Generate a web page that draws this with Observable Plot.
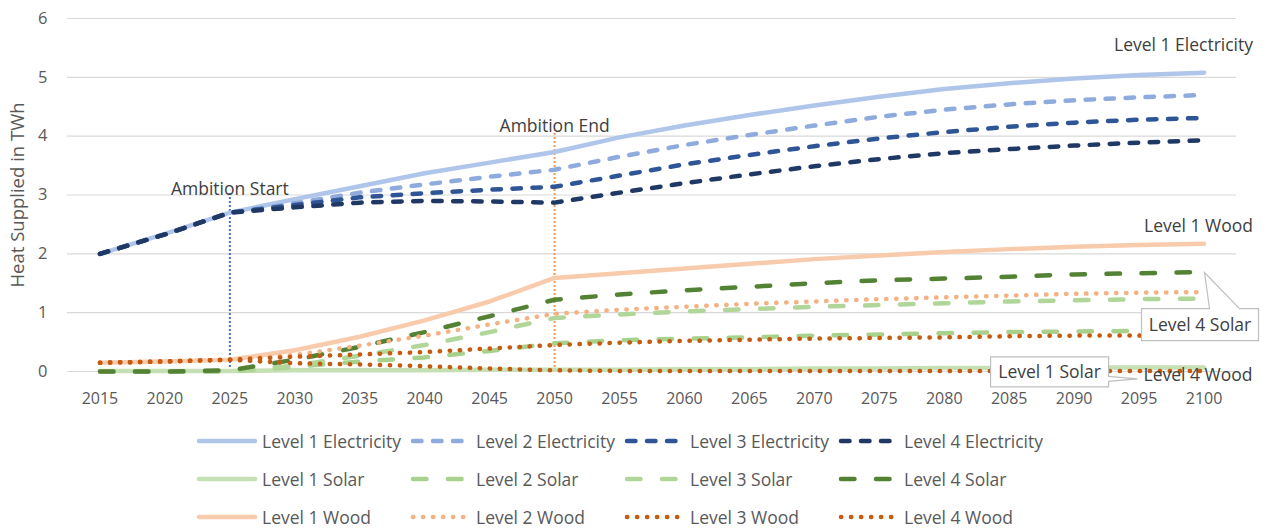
<!DOCTYPE html>
<html>
<head>
<meta charset="utf-8">
<script src="https://cdn.jsdelivr.net/npm/d3@7"></script>
<script src="https://cdn.jsdelivr.net/npm/@observablehq/plot@0.6"></script>
<style>
  html, body { margin: 0; padding: 0; background: #fff; }
  body { font-family: "Open Sans", sans-serif; width: 1269px; height: 528px; position: relative; overflow: hidden; }
  #legend { position: absolute; left: 0; top: 422px; width: 1269px; padding-left: 196px; box-sizing: border-box; }
  .row { display: flex; height: 38px; align-items: center; }
  .item { width: 214px; display: flex; align-items: center; color: #595959; font-size: 17.5px; white-space: nowrap; }
  .item svg { flex: none; margin-right: 4px; }
</style>
</head>
<body>
<div id="chart"></div>
<div id="legend"></div>
<script>
// ---- Data ----
const years = [2015, 2020, 2025, 2030, 2035, 2040, 2045, 2050, 2055, 2060, 2065, 2070, 2075, 2080, 2085, 2090, 2095, 2100];
const yTicks = [0, 1, 2, 3, 4, 5, 6];

const elec1 = [2.00, 2.34, 2.70, 2.93, 3.15, 3.37, 3.55, 3.73, 3.98, 4.18, 4.36, 4.52, 4.67, 4.80, 4.90, 4.98, 5.04, 5.08];
const elec2 = [2.00, 2.33, 2.70, 2.86, 3.04, 3.18, 3.31, 3.43, 3.65, 3.85, 4.02, 4.18, 4.33, 4.45, 4.54, 4.61, 4.66, 4.70];
const elec3 = [2.00, 2.33, 2.70, 2.83, 2.96, 3.03, 3.09, 3.14, 3.33, 3.52, 3.68, 3.83, 3.96, 4.07, 4.16, 4.23, 4.28, 4.31];
const elec4 = [2.00, 2.33, 2.70, 2.79, 2.87, 2.90, 2.89, 2.87, 3.04, 3.20, 3.35, 3.49, 3.61, 3.71, 3.78, 3.84, 3.89, 3.93];

const solar1 = [0.01, 0.01, 0.01, 0.02, 0.02, 0.02, 0.03, 0.03, 0.03, 0.04, 0.04, 0.05, 0.05, 0.06, 0.06, 0.07, 0.07, 0.07];
const solar2 = [0.00, 0.00, 0.00, 0.08, 0.17, 0.24, 0.35, 0.48, 0.53, 0.56, 0.58, 0.61, 0.63, 0.65, 0.67, 0.68, 0.69, 0.70];
const solar3 = [0.00, 0.00, 0.00, 0.10, 0.27, 0.45, 0.67, 0.91, 0.97, 1.02, 1.06, 1.10, 1.13, 1.16, 1.19, 1.21, 1.23, 1.24];
const solar4 = [0.00, 0.00, 0.02, 0.20, 0.42, 0.67, 0.94, 1.22, 1.31, 1.38, 1.44, 1.50, 1.55, 1.58, 1.61, 1.65, 1.67, 1.69];

const wood1 = [0.15, 0.17, 0.20, 0.36, 0.59, 0.87, 1.19, 1.59, 1.67, 1.75, 1.83, 1.91, 1.97, 2.03, 2.08, 2.12, 2.15, 2.17];
const wood2 = [0.15, 0.17, 0.20, 0.28, 0.44, 0.61, 0.80, 0.98, 1.05, 1.10, 1.15, 1.19, 1.23, 1.26, 1.29, 1.32, 1.34, 1.35];
const wood3 = [0.15, 0.17, 0.20, 0.25, 0.29, 0.33, 0.39, 0.45, 0.49, 0.52, 0.54, 0.56, 0.57, 0.58, 0.60, 0.61, 0.61, 0.62];
const wood4 = [0.15, 0.17, 0.20, 0.14, 0.12, 0.09, 0.05, 0.02, 0.01, 0.01, 0.01, 0.01, 0.01, 0.01, 0.01, 0.01, 0.01, 0.01];

const seriesNames = [
  "Level 1 Electricity", "Level 2 Electricity", "Level 3 Electricity", "Level 4 Electricity",
  "Level 1 Solar", "Level 2 Solar", "Level 3 Solar", "Level 4 Solar",
  "Level 1 Wood", "Level 2 Wood", "Level 3 Wood", "Level 4 Wood"
];
const seriesValues = [elec1, elec2, elec3, elec4, solar1, solar2, solar3, solar4, wood1, wood2, wood3, wood4];

const ambitionYears = [2025, 2050];
const ambitionLabels = ["Ambition Start", "Ambition End"];
const ambitionTops = [3.03, 4.10];

// ---- Styles ----
const SOLID = null, DASH = "8.5 11.5", LONG = "13.5 21.5", DOT = "0.3 9.7";
const styles = {
  "Level 1 Electricity": {stroke: "#AFC6EA", dash: SOLID},
  "Level 2 Electricity": {stroke: "#8FAADC", dash: DASH},
  "Level 3 Electricity": {stroke: "#2F5597", dash: DASH},
  "Level 4 Electricity": {stroke: "#203864", dash: DASH},
  "Level 1 Solar": {stroke: "#C5E0B4", dash: SOLID},
  "Level 2 Solar": {stroke: "#A9D18E", dash: LONG},
  "Level 3 Solar": {stroke: "#B0D699", dash: LONG},
  "Level 4 Solar": {stroke: "#548235", dash: LONG},
  "Level 1 Wood": {stroke: "#F8CBAD", dash: SOLID},
  "Level 2 Wood": {stroke: "#F4B183", dash: DOT},
  "Level 3 Wood": {stroke: "#C55A11", dash: DOT},
  "Level 4 Wood": {stroke: "#C55A11", dash: DOT}
};
const SW = 4.5;
const FONT = '"Open Sans", sans-serif';

// ---- Table ----
const table = [];
seriesNames.forEach((name, i) => {
  years.forEach((yr, j) => table.push({series: name, year: yr, value: seriesValues[i][j]}));
});
const last = (name) => table.filter(d => d.series === name && d.year === years[years.length - 1]);
const at = (name, yr) => table.filter(d => d.series === name && d.year === yr);

const lineMarks = seriesNames.map(name => Plot.line(table.filter(d => d.series === name), {
  x: "year", y: "value",
  stroke: styles[name].stroke,
  strokeWidth: SW,
  strokeDasharray: styles[name].dash || undefined,
  strokeLinecap: "round",
  strokeLinejoin: "round"
}));

const ambition = ambitionYears.map((yr, i) => ({year: yr, top: ambitionTops[i], label: ambitionLabels[i]}));

const chart = Plot.plot({
  width: 1269,
  height: 420,
  marginLeft: 67,
  marginRight: 33,
  marginTop: 18,
  marginBottom: 49,
  style: {fontFamily: FONT, color: "#595959", background: "#fff", overflow: "visible"},
  x: {domain: [2012.5, 2102.5]},
  y: {domain: [0, 6]},
  marks: [
    Plot.gridY({ticks: yTicks, stroke: "#D9D9D9", strokeOpacity: 1, strokeWidth: 1.2}),
    Plot.axisY({ticks: yTicks, tickFormat: d => String(d), tickSize: 0, tickPadding: 20, fontSize: 16.5, label: null, fill: "#595959"}),
    Plot.axisX({ticks: years, tickFormat: d => String(d), tickSize: 0, tickPadding: 21, fontSize: 16, label: null, fill: "#595959"}),
    Plot.text(["Heat Supplied in TWh"], {frameAnchor: "left", textAnchor: "middle", lineAnchor: "middle", dx: -49, rotate: -90, fontSize: 18.5, fill: "#595959", text: d => d}),
    Plot.ruleX(ambition.slice(0, 1), {x: "year", y1: 0, y2: "top", stroke: "#4472C4", strokeWidth: 2, strokeDasharray: "2 2"}),
    Plot.ruleX(ambition.slice(1), {x: "year", y1: 0, y2: "top", stroke: "#F29A5A", strokeWidth: 2, strokeDasharray: "2 2"}),
    ...lineMarks,
    Plot.text(ambition, {x: "year", y: "top", text: "label", dy: -4, fontSize: 17.5, fill: "#404040"}),
    Plot.text(last("Level 1 Electricity"), {x: "year", y: "value", text: "series", textAnchor: "end", dx: 49, dy: -27, fontSize: 17.5, fill: "#404040"}),
    Plot.text(last("Level 1 Wood"), {x: "year", y: "value", text: "series", textAnchor: "end", dx: 49, dy: -17, fontSize: 17.5, fill: "#404040"})
  ]
});
document.getElementById("chart").append(chart);

// ---- Callouts ----
const sx = chart.scale("x"), sy = chart.scale("y");
const svg = d3.select(chart);
const g = svg.append("g").attr("font-family", FONT);

// Level 4 Solar callout (points at the series end)
{
  const p = last("Level 4 Solar")[0];
  const tx = sx.apply(p.year), ty = sy.apply(p.value);
  const L = tx - 62, R = tx + 55, T = ty + 37, B = ty + 69;
  g.append("path")
    .attr("d", `M${L},${T}L${tx + 6},${T}L${tx + 1},${ty + 1}L${tx + 36},${T}L${R},${T}L${R},${B}L${L},${B}Z`)
    .attr("fill", "#fff").attr("stroke", "#BFBFBF").attr("stroke-width", 1.2);
  g.append("text").attr("x", (L + R) / 2).attr("y", (T + B) / 2).attr("dy", "0.35em")
    .attr("text-anchor", "middle").attr("font-size", 17.5).attr("fill", "#404040").text("Level 4 Solar");
}
// Level 1 Solar callout
{
  const p = at("Level 1 Solar", 2095)[0];
  const tx = sx.apply(p.year) - 1, ty = sy.apply(p.value) + 12;
  const R = tx - 29, L = R - 118, T = ty - 22, B = ty + 8;
  g.append("path")
    .attr("d", `M${L},${T}L${R},${T}L${R},${ty - 2.5}L${tx},${ty}L${R},${ty + 2.5}L${R},${B}L${L},${B}Z`)
    .attr("fill", "#fff").attr("stroke", "#BFBFBF").attr("stroke-width", 1.2);
  g.append("text").attr("x", (L + R) / 2).attr("y", (T + B) / 2).attr("dy", "0.35em")
    .attr("text-anchor", "middle").attr("font-size", 17.5).attr("fill", "#404040").text("Level 1 Solar");
}
// Level 4 Wood label
{
  const p = last("Level 4 Wood")[0];
  g.append("text").attr("x", sx.apply(p.year) + 49).attr("y", sy.apply(p.value) + 4).attr("dy", "0.35em")
    .attr("text-anchor", "end").attr("font-size", 17.5).attr("fill", "#404040").text("Level 4 Wood");
}

// ---- Legend ----
const legend = d3.select("#legend");
for (let r = 0; r < 3; r++) {
  const row = legend.append("div").attr("class", "row");
  for (let c = 0; c < 4; c++) {
    const name = seriesNames[r * 4 + c];
    const st = styles[name];
    const item = row.append("div").attr("class", "item");
    const s = item.append("svg").attr("width", 62).attr("height", 10);
    s.append("line").attr("x1", 3).attr("x2", 59).attr("y1", 5).attr("y2", 5)
      .attr("stroke", st.stroke).attr("stroke-width", SW).attr("stroke-linecap", "round")
      .attr("stroke-dasharray", st.dash);
    item.append("span").text(name);
  }
}
</script>
</body>
</html>
